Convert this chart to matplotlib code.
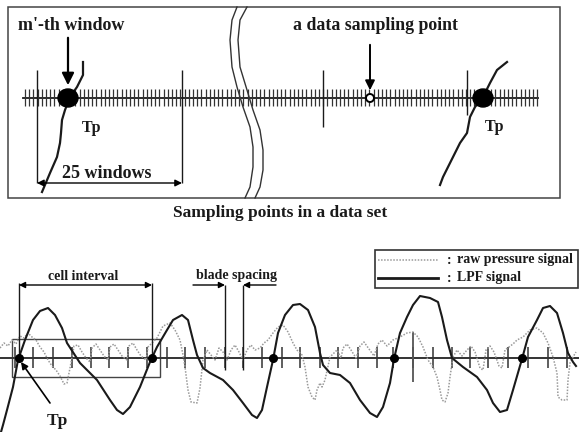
import numpy as np
import matplotlib
matplotlib.use("Agg")
import matplotlib.pyplot as plt
from matplotlib.patches import Rectangle, Ellipse, Circle

plt.rcParams['font.family'] = ['Liberation Serif', 'DejaVu Serif']

# ---------------- data (pixel-space schematic coordinates) ----------------
# LPF signal (x, y)
lpf_x = [1, 3, 7, 13, 18, 25, 33, 40, 48, 55, 62, 67, 80, 97, 110, 117, 123, 130, 140, 150,
         157, 167, 173, 182, 188, 193, 197, 203, 210, 223, 233, 243, 252, 257, 262, 267, 273,
         278, 285, 293, 300, 308, 315, 320, 323, 330, 340, 350, 360, 370, 377, 383, 390, 394,
         400, 407, 413, 420, 430, 438, 442, 447, 452, 463, 477, 487, 493, 500, 507, 513, 522,
         528, 537, 543, 550, 557, 563, 568, 573, 576]
lpf_y = [432, 425, 410, 387, 360, 340, 320, 311, 308, 315, 328, 343, 363, 380, 400, 410, 414,
         407, 387, 362, 347, 330, 320, 315, 320, 340, 355, 368, 373, 380, 390, 403, 415, 418,
         410, 387, 360, 333, 315, 305, 304, 310, 327, 353, 365, 373, 375, 383, 400, 413, 417,
         407, 383, 359, 333, 317, 305, 296, 298, 302, 317, 340, 358, 367, 377, 390, 403, 412,
         410, 390, 359, 337, 320, 308, 306, 313, 333, 353, 362, 366]

# raw pressure signal (x, y)
raw_x = [0, 4, 8, 12, 16, 20, 24, 28, 32, 36, 40, 44, 48, 52, 56, 60, 64, 67, 70, 73,
         74, 78, 82, 86, 90, 92, 96, 100, 104, 108, 110, 114, 118, 122, 127, 129, 133, 137,
         141, 146, 148, 152, 157, 163, 170, 175, 180, 183, 185, 188, 191, 197, 200, 203, 207,
         211, 215, 219, 223, 227, 231, 235, 239, 243, 247, 251, 255, 260, 264, 268, 273, 278,
         283, 288, 293, 297, 302, 305, 308, 312, 315, 317, 320, 322, 325, 330, 337, 341, 343,
         347, 351, 356, 360, 364, 369, 374, 378, 382, 387, 393, 400, 407, 413, 418, 423, 428,
         433, 437, 440, 442, 445, 448, 450, 453, 457, 462, 467, 471, 475, 480, 483, 486, 490,
         494, 499, 502, 505, 509, 513, 517, 523, 530, 537, 543, 548, 553, 557, 558, 562, 567,
         568, 570, 573, 576]
raw_y = [348, 343, 346, 340, 344, 336, 338, 333, 337, 340, 347, 352, 360, 366, 370, 376, 384,
         383, 368, 352, 346, 345, 352, 358, 362, 348, 344, 350, 356, 360, 347, 344, 350, 356,
         360, 346, 343, 350, 356, 360, 347, 343, 338, 326, 323, 330, 340, 355, 367, 390, 402,
         403, 388, 360, 350, 355, 360, 348, 352, 360, 350, 345, 352, 360, 350, 345, 350, 348,
         343, 340, 333, 327, 325, 332, 343, 350, 355, 367, 387, 397, 400, 390, 383, 387, 380,
         357, 350, 358, 348, 344, 350, 358, 346, 342, 349, 356, 344, 340, 346, 340, 337, 333,
         332, 337, 347, 360, 367, 377, 390, 400, 402, 393, 377, 357, 350, 356, 350, 346, 352,
         368, 370, 350, 346, 352, 366, 368, 350, 347, 344, 340, 337, 330, 328, 333, 343, 357,
         373, 397, 400, 400, 380, 363, 357, 352]

# blade positions on the lower time axis
blade_x = [15, 33, 53, 72, 91, 109, 128, 147, 167, 185, 205, 225, 243, 262, 282, 300, 320,
           338, 358, 377, 393, 413, 433, 452, 470, 488, 508, 528, 548, 567]
# cell boundaries (Tp points, upward zero crossings of LPF)
tp_x = [19, 152, 273, 394, 522]

# top panel: Tp boundary curves
tp_curve_l_x = [83, 83, 77, 70, 65, 62, 61, 60, 57, 50, 42]
tp_curve_l_y = [62, 75, 87, 97, 110, 120, 133, 143, 157, 173, 192]
tp_curve_r_x = [507, 497, 490, 483, 475, 470, 467, 460, 453, 450, 443, 440]
tp_curve_r_y = [62, 70, 83, 97, 107, 117, 133, 143, 157, 163, 177, 185]

# break marks
brk_a_x = [237, 232, 230, 232, 237, 243, 250, 253, 253, 250, 245]
brk_a_y = [7, 20, 40, 67, 87, 107, 127, 147, 167, 187, 198]
brk_b_x = [247, 240, 238, 240, 247, 253, 260, 263, 263, 260, 255]
brk_b_y = [7, 20, 40, 67, 90, 110, 130, 150, 170, 187, 198]

# ---------------- figure ----------------
fig = plt.figure(figsize=(5.79, 4.32), dpi=100)
ax = fig.add_axes([0, 0, 1, 1])
ax.set_xlim(0, 579)
ax.set_ylim(432, 0)
ax.axis('off')

dark = '#1a1a1a'
bold = dict(fontweight='bold', color=dark)

# ======== top panel ========
ax.add_patch(Rectangle((8, 7), 552, 191, fill=False, edgecolor='#444444', lw=1.1))

# sampling axis with window ticks
ax.plot([23, 538], [98, 98], color=dark, lw=1.3)
top_ticks = np.arange(25, 538, 4.2)
ax.vlines(top_ticks, 89, 106, color='#333333', lw=0.9)

# long window boundary lines
ax.vlines([37, 182], 70, 183, color=dark, lw=1.0)
ax.vlines([323], 70, 127, color=dark, lw=1.0)
ax.vlines([467], 70, 115, color=dark, lw=1.0)

# break marks
ax.plot(brk_a_x, brk_a_y, color='#333333', lw=1.0)
ax.plot(brk_b_x, brk_b_y, color='#333333', lw=1.0)

# Tp curves and dots
ax.plot(tp_curve_l_x, tp_curve_l_y, color=dark, lw=1.6)
ax.plot(tp_curve_r_x, tp_curve_r_y, color=dark, lw=1.6)
ax.add_patch(Ellipse((68, 98), 20, 18, color='black', zorder=5))
ax.add_patch(Ellipse((483, 98), 20, 18, color='black', zorder=5))
ax.add_patch(Circle((370, 98), 4, facecolor='white', edgecolor='black', lw=1.4, zorder=5))

# arrows
ax.annotate('', xy=(68, 88), xytext=(68, 35),
            arrowprops=dict(arrowstyle='-|>', color='black', lw=1.6, mutation_scale=18))
ax.annotate('', xy=(370, 93), xytext=(370, 42),
            arrowprops=dict(arrowstyle='-|>', color='black', lw=1.4, mutation_scale=14))
ax.annotate('', xy=(37, 183), xytext=(182, 183),
            arrowprops=dict(arrowstyle='<|-|>', color='black', lw=1.0, mutation_scale=10,
                            shrinkA=0, shrinkB=0))

# texts
ax.text(18, 25, "m'-th window", fontsize=13, ha='left', va='center', **bold)
ax.text(293, 25, "a data sampling point", fontsize=12.8, ha='left', va='center', **bold)
ax.text(82, 128, "Tp", fontsize=11.5, ha='left', va='center', **bold)
ax.text(485, 127, "Tp", fontsize=11.5, ha='left', va='center', **bold)
ax.text(62, 173, "25 windows", fontsize=13, ha='left', va='center', **bold)
ax.text(280, 213, "Sampling points in a data set", fontsize=12.5, ha='center', va='center', **bold)

# ======== bottom panel ========
# time axis
ax.plot([0, 579], [358, 358], color='#333333', lw=1.4)
ax.vlines(blade_x, 347, 368, color='#333333', lw=1.1)
ax.vlines([413], 332, 382, color='#555555', lw=1.3)

# raw pressure and LPF signals
ax.plot(raw_x, raw_y, color='#9a9a9a', lw=1.1, ls=(0, (1, 1)))
ax.plot(lpf_x, lpf_y, color=dark, lw=1.5)
ax.plot(tp_x, [358] * len(tp_x), 'o', color='black', ms=5.5, zorder=6)

# cell window rectangle
ax.add_patch(Rectangle((12, 339), 148, 38, fill=False, edgecolor='#444444', lw=1.0))

# cell interval
ax.vlines([19, 152], 283, 358, color=dark, lw=1.0)
ax.annotate('', xy=(19, 285), xytext=(152, 285),
            arrowprops=dict(arrowstyle='<|-|>', color='black', lw=1.0, mutation_scale=9,
                            shrinkA=0, shrinkB=0))
ax.text(83, 276, "cell interval", fontsize=10, ha='center', va='center', **bold)

# blade spacing
ax.vlines([225, 243], 285, 370, color=dark, lw=1.0)
ax.annotate('', xy=(225, 285), xytext=(193, 285),
            arrowprops=dict(arrowstyle='-|>', color='black', lw=1.0, mutation_scale=9,
                            shrinkA=0, shrinkB=0))
ax.annotate('', xy=(243, 285), xytext=(276, 285),
            arrowprops=dict(arrowstyle='-|>', color='black', lw=1.0, mutation_scale=9,
                            shrinkA=0, shrinkB=0))
ax.text(237, 276, "blade spacing", fontsize=10, ha='center', va='center', **bold)

# Tp pointer
ax.annotate('', xy=(21, 362), xytext=(50, 403),
            arrowprops=dict(arrowstyle='-|>', color='black', lw=1.2, mutation_scale=10,
                            shrinkA=0, shrinkB=0))
ax.text(47, 421, "Tp", fontsize=12.5, ha='left', va='center', **bold)

# legend box
ax.add_patch(Rectangle((375, 250), 203, 38, fill=False, edgecolor='#333333', lw=1.2))
ax.plot([378, 438], [260, 260], color='#9a9a9a', lw=1.1, ls=(0, (1, 1)))
ax.plot([378, 438], [278, 278], color=dark, lw=2.0)
ax.text(447, 260, ":", fontsize=10, ha='left', va='center', **bold)
ax.text(447, 278, ":", fontsize=10, ha='left', va='center', **bold)
ax.text(457, 260, "raw pressure signal", fontsize=10, ha='left', va='center', **bold)
ax.text(457, 278, "LPF signal", fontsize=10, ha='left', va='center', **bold)

fig.savefig("out.png", dpi=100)
